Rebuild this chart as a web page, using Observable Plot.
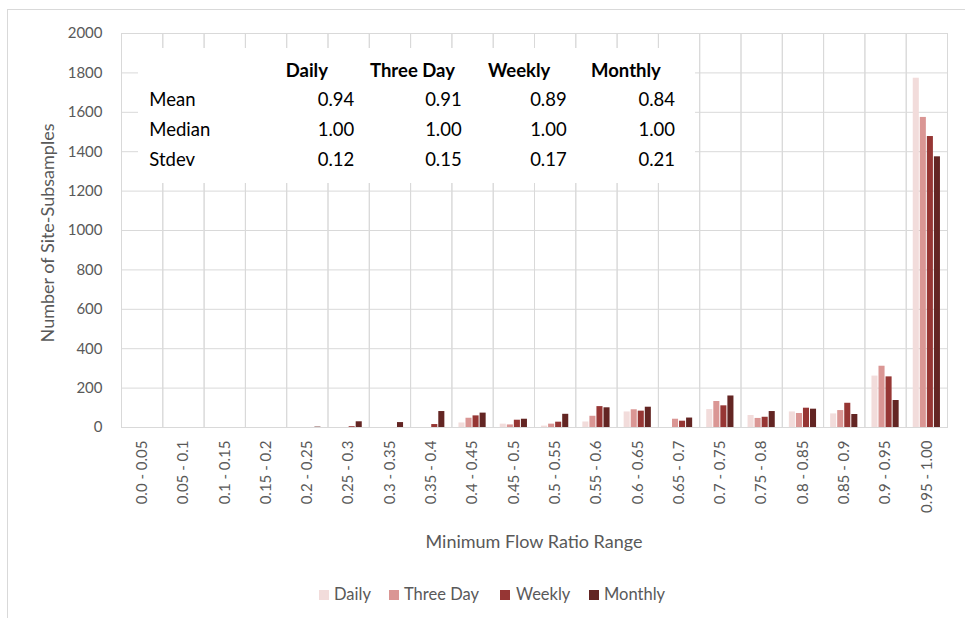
<!DOCTYPE html>
<html>
<head>
<meta charset="utf-8">
<script src="https://cdn.jsdelivr.net/npm/d3@7"></script>
<script src="https://cdn.jsdelivr.net/npm/@observablehq/plot@0.6"></script>
<style>
  html, body { margin: 0; padding: 0; background: #fff; }
  #wrap { position: relative; width: 965px; height: 618px; overflow: hidden; font-family: Lato, "Noto Sans", sans-serif; color: #595959; }
  #border { position: absolute; left: 7px; top: 9px; width: 1100px; height: 1100px; border-left: 1px solid #d9d9d9; border-top: 1px solid #d9d9d9; pointer-events: none; }
  #ytitle { position: absolute; left: 47px; top: 233px; transform: translate(-50%, -50%) rotate(-90deg); white-space: nowrap; font-size: 18px; }
  #xtitle { position: absolute; left: 534px; top: 531px; transform: translateX(-50%); white-space: nowrap; font-size: 18px; line-height: 20px; }
  #table { position: absolute; left: 0; top: 0; }
  #legend { position: relative; width: 965px; height: 48px; font-size: 16.5px; }
  .lg-sw { position: absolute; width: 10px; height: 10px; top: 20px; }
  .lg-tx { position: absolute; top: 14px; line-height: 20px; white-space: nowrap; }
</style>
</head>
<body>
<div id="wrap">
  <div id="chart"></div>
  <div id="legend"></div>
  <svg id="table" width="965" height="200"></svg>
  <div id="ytitle">Number of Site-Subsamples</div>
  <div id="xtitle">Minimum Flow Ratio Range</div>
  <div id="border"></div>
</div>
<script>
// ---- data ----
const categories = ["0.0 - 0.05","0.05 - 0.1","0.1 - 0.15","0.15 - 0.2","0.2 - 0.25","0.25 - 0.3","0.3 - 0.35","0.35 - 0.4","0.4 - 0.45","0.45 - 0.5","0.5 - 0.55","0.55 - 0.6","0.6 - 0.65","0.65 - 0.7","0.7 - 0.75","0.75 - 0.8","0.8 - 0.85","0.85 - 0.9","0.9 - 0.95","0.95 - 1.00"];
const seriesNames = ["Daily", "Three Day", "Weekly", "Monthly"];
const daily    = [0,0,0,0,0,0,0,0,23,17,7,28,79,0,91,61,79,69,261,1773];
const threeDay = [0,0,0,0,0,0,0,0,47,13,17,57,90,42,132,46,71,86,311,1574];
const weekly   = [0,0,0,0,0,4,0,15,59,37,27,106,83,32,110,52,98,123,257,1477];
const monthly  = [0,0,0,0,2,29,25,81,73,42,67,100,103,48,160,81,93,66,137,1374];
const seriesColors = ["#F2DCDB", "#DA9694", "#963634", "#632523"];
const yTicks = [0,200,400,600,800,1000,1200,1400,1600,1800,2000];

// inset statistics table
const statRows = ["Mean", "Median", "Stdev"];
const statDaily    = ["0.94", "1.00", "0.12"];
const statThreeDay = ["0.91", "1.00", "0.15"];
const statWeekly   = ["0.89", "1.00", "0.17"];
const statMonthly  = ["0.84", "1.00", "0.21"];

// ---- build rows ----
const seriesValues = [daily, threeDay, weekly, monthly];
const rows = [];
categories.forEach((c, i) => {
  seriesNames.forEach((s, j) => rows.push({cat: c, series: s, value: seriesValues[j][i]}));
});

const chart = Plot.plot({
  width: 965,
  height: 570,
  marginLeft: 121,
  marginRight: 18,
  marginTop: 33,
  marginBottom: 143,
  style: {fontFamily: "Lato, 'Noto Sans', sans-serif", fontSize: "15px", color: "#595959", background: "transparent", overflow: "visible"},
  fx: {domain: categories, padding: 0, round: false},
  x: {domain: seriesNames, paddingInner: 0.14, paddingOuter: 1.0, round: false, axis: null},
  y: {domain: [0, 2000]},
  color: {domain: seriesNames, range: seriesColors},
  marks: [
    Plot.ruleY(yTicks, {stroke: "#d9d9d9", strokeWidth: 1}),
    Plot.frame({stroke: "#d9d9d9", strokeWidth: 1}),
    Plot.barY(rows, {fx: "cat", x: "series", y: "value", fill: "series"}),
    Plot.axisY({ticks: yTicks, tickSize: 0, tickPadding: 19, label: null, tickFormat: d => String(d), fontSize: 15}),
    Plot.axisFx({anchor: "bottom", tickRotate: -90, tickSize: 0, tickPadding: 13, label: null, fontSize: 15})
  ]
});
document.getElementById("chart").appendChild(chart);

// ---- inset table ----
const tsvg = d3.select("#table");
tsvg.append("rect").attr("x", 138).attr("y", 48).attr("width", 557).attr("height", 135).attr("fill", "#fff");
const tfont = "Lato, 'Noto Sans', sans-serif";
const headerX = [285.7, 370, 488, 591];
const valueX = [354.3, 461.7, 566.7, 675];
const rowBase = [106, 136, 166];
seriesNames.forEach((s, j) => {
  tsvg.append("text").attr("x", headerX[j]).attr("y", 76.5).attr("font-family", tfont)
    .attr("font-size", 18.5).attr("font-weight", "bold").attr("fill", "#000").text(s);
});
const statCols = [statDaily, statThreeDay, statWeekly, statMonthly];
statRows.forEach((r, i) => {
  tsvg.append("text").attr("x", 149.3).attr("y", rowBase[i]).attr("font-family", tfont)
    .attr("font-size", 18.5).attr("fill", "#000").text(r);
  statCols.forEach((col, j) => {
    tsvg.append("text").attr("x", valueX[j]).attr("y", rowBase[i]).attr("text-anchor", "end")
      .attr("font-family", tfont).attr("font-size", 18.5).attr("fill", "#000").text(col[i]);
  });
});

// ---- legend ----
const legend = document.getElementById("legend");
const swX = [319, 389, 500, 589];
const txX = [334, 404, 516, 604];
seriesNames.forEach((s, j) => {
  const sw = document.createElement("div");
  sw.className = "lg-sw"; sw.style.left = swX[j] + "px"; sw.style.background = seriesColors[j];
  legend.appendChild(sw);
  const tx = document.createElement("div");
  tx.className = "lg-tx"; tx.style.left = txX[j] + "px"; tx.textContent = s;
  legend.appendChild(tx);
});
</script>
</body>
</html>
